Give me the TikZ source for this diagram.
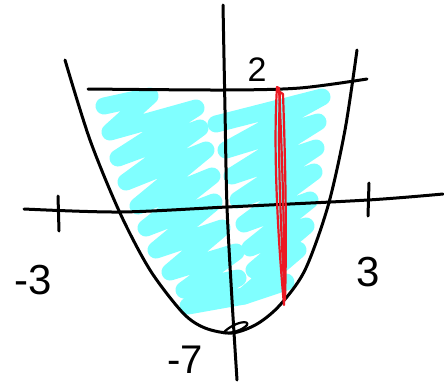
\documentclass[tikz,border=0pt]{standalone}
\usepackage{fontspec}
\setmainfont{Liberation Sans}
\definecolor{hicyan}{RGB}{128,255,255}
\definecolor{redpen}{RGB}{235,25,35}
\begin{document}
\begin{tikzpicture}[x=1pt,y=-1pt,
  ink/.style={line width=3pt,line cap=round,line join=round,black},
  hilite/.style={line width=17pt,line cap=round,line join=round,draw=hicyan},
  redink/.style={line width=2.2pt,line cap=round,line join=round,draw=redpen},
  lab/.style={inner sep=0pt}]
\useasboundingbox (0,0) rectangle (444,389);
% cyan scribble
\draw[hilite] (104,106) -- (150,96) -- (110,132) -- (196,108) -- (118,158) -- (200,128) -- (126,182) -- (206,150) -- (138,206) -- (212,176) -- (146,228) -- (214,202) -- (156,250) -- (222,228) -- (170,272) -- (236,252) -- (184,290) -- (238,278) -- (188,306) -- (244,296);
\draw[hilite] (216,124) -- (322,97) -- (226,150) -- (318,122) -- (232,176) -- (316,148) -- (238,200) -- (314,172) -- (244,224) -- (310,200) -- (250,248) -- (306,226) -- (254,270) -- (298,250) -- (244,296) -- (286,282);
% axes
\draw[ink] plot[smooth] coordinates {(223,5) (225,110) (227,207) (232,300) (237,380)};
\draw[ink] plot[smooth] coordinates {(24,209) (120,212) (227,207) (368,200) (443,194)};
% ticks
\draw[ink] (58,196) -- (59,231);
\draw[ink] (369,183) -- (368,216);
% horizontal line y=2
\draw[ink] plot[smooth] coordinates {(88,89) (225,90) (300,88) (367,79)};
% parabola
\draw[ink] plot[smooth] coordinates {(65,60) (90,140) (120,213) (150,270) (183,313) (205,328) (232,333) (257,324) (280,305) (305,270) (328,206) (345,130) (357,50)};
% small loop at vertex
\draw[ink,line width=2.2pt] (223,333) .. controls (235,321) and (250,320) .. (247,325) .. controls (243,330) and (230,334) .. (223,333);
% red strip
\draw[redink] (277,87) .. controls (273,150) and (278,240) .. (284,305) .. controls (285,240) and (282,150) .. (279,88) -- cycle;
\draw[redink] (280,92) .. controls (277,160) and (282,250) .. (285,300) .. controls (287,230) and (285,150) .. (283,94) -- cycle;
% labels
\node[lab,font=\fontsize{34}{34}\selectfont] (two) at (257,70) {2};
\node[lab,font=\fontsize{42}{42}\selectfont] (mthree) at (33,280) {-3};
\node[lab,font=\fontsize{42}{42}\selectfont] (three) at (368,272) {3};
\node[lab,font=\fontsize{40}{40}\selectfont] (mseven) at (185,360) {-7};
\end{tikzpicture}
\end{document}
